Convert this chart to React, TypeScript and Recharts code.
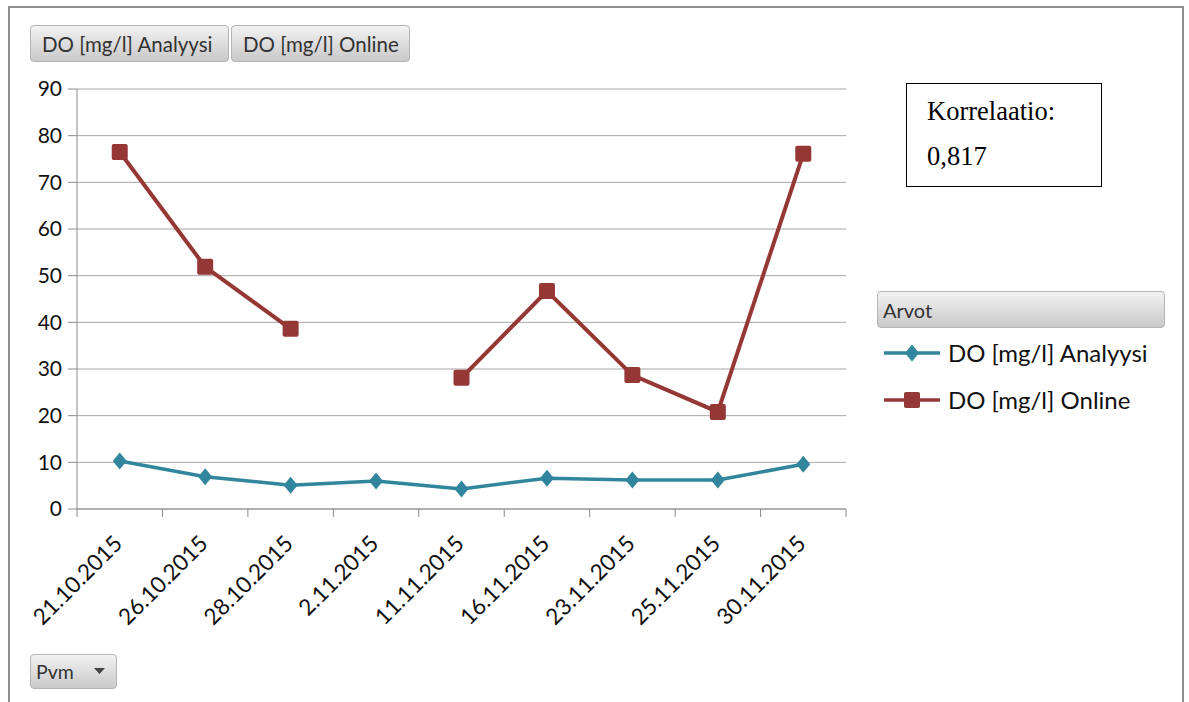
import React from "react";
import { LineChart, Line, XAxis, YAxis, CartesianGrid, Legend } from "recharts";

const dates = [
  "21.10.2015",
  "26.10.2015",
  "28.10.2015",
  "2.11.2015",
  "11.11.2015",
  "16.11.2015",
  "23.11.2015",
  "25.11.2015",
  "30.11.2015",
];
const analyysi = [10.3, 6.9, 5.1, 6.0, 4.3, 6.6, 6.2, 6.2, 9.6];
const online: (number | null)[] = [76.5, 51.9, 38.6, null, 28.1, 46.7, 28.7, 20.8, 76.1];
const yTicks = [0, 10, 20, 30, 40, 50, 60, 70, 80, 90];

const data = dates.map((d, i) => ({ pvm: d, analyysi: analyysi[i], online: online[i] }));

const TEAL = "#31859c";
const RED = "#953735";
const FONT = "Lato, 'Open Sans', sans-serif";

const buttonStyle: React.CSSProperties = {
  position: "absolute",
  boxSizing: "border-box",
  background: "linear-gradient(#f2f2f2, #c9c9c9)",
  border: "1px solid #b4b4b4",
  borderRadius: 4,
  color: "#333",
  fontFamily: FONT,
  fontSize: 20.5,
  display: "flex",
  alignItems: "center",
  paddingLeft: 11,
};

function Diamond({ cx, cy }: any) {
  if (cx == null || cy == null) return null;
  return <path d={`M${cx},${cy - 8.5} L${cx + 7},${cy} L${cx},${cy + 8.5} L${cx - 7},${cy} Z`} fill={TEAL} />;
}

function Square({ cx, cy, value }: any) {
  if (cx == null || cy == null || value == null) return null;
  return <rect x={cx - 8} y={cy - 8} width={16} height={16} rx={2} fill={RED} />;
}

function DateTick({ x, y, payload, index }: any) {
  const off = payload.offset || 0;
  const ax = x + 4;
  const ay = y + 28;
  return (
    <g>
      <line x1={x - off} x2={x - off} y1={y - 8} y2={y} stroke="#8c8c8c" />
      {index === dates.length - 1 && (
        <line x1={x + off} x2={x + off} y1={y - 8} y2={y} stroke="#8c8c8c" />
      )}
      <text
        x={ax}
        y={ay}
        textAnchor="end"
        transform={`rotate(-45, ${ax}, ${ay})`}
        fontFamily={FONT}
        fontSize={22.5}
        fill="#111"
      >
        {payload.value}
      </text>
    </g>
  );
}

function LegendBox({ payload }: any) {
  return (
    <div style={{ width: 300, fontFamily: FONT }}>
      <div style={{ ...buttonStyle, position: "relative", width: 288, height: 37, fontSize: 20, paddingLeft: 5 }}>
        Arvot
      </div>
      {(payload || []).map((p: any, i: number) => (
        <div key={i} style={{ display: "flex", alignItems: "center", height: 47, marginTop: i === 0 ? 1 : 0 }}>
          <svg width={70} height={20} style={{ marginLeft: 7 }}>
            <line x1={0} x2={56} y1={10} y2={10} stroke={p.color} strokeWidth={3.5} />
            {i === 0 ? (
              <path d="M28,1.5 L35,10 L28,18.5 L21,10 Z" fill={TEAL} />
            ) : (
              <rect x={20} y={2} width={16} height={16} rx={2} fill={RED} />
            )}
          </svg>
          <span style={{ fontSize: 24, color: "#111", marginLeft: -6 }}>{p.value}</span>
        </div>
      ))}
    </div>
  );
}

export default function App() {
  return (
    <div style={{ position: "absolute", left: 0, top: 0, width: 1189, height: 702, background: "#fff", overflow: "hidden" }}>
      <div
        style={{
          position: "absolute",
          left: 8,
          top: 6,
          width: 1176,
          height: 710,
          border: "2px solid #8f8f8f",
          boxSizing: "border-box",
        }}
      />
      <LineChart width={1189} height={702} data={data} margin={{ top: 89, right: 343, bottom: 93, left: 17 }}>
        <CartesianGrid vertical={false} stroke="#a6a6a6" strokeWidth={1} />
        <XAxis
          dataKey="pvm"
          scale="band"
          height={100}
          axisLine={{ stroke: "#8c8c8c" }}
          tickLine={false}
          tickSize={8}
          tickMargin={0}
          interval={0}
          tick={<DateTick />}
        />
        <YAxis
          width={60}
          domain={[0, 90]}
          ticks={yTicks}
          interval={0}
          axisLine={{ stroke: "#8c8c8c" }}
          tickLine={{ stroke: "#8c8c8c" }}
          tickSize={9}
          tickMargin={6}
          tick={{ fontFamily: FONT, fontSize: 21, fill: "#111" }}
        />
        <Line
          dataKey="analyysi"
          name="DO [mg/l] Analyysi"
          stroke={TEAL}
          strokeWidth={3.5}
          dot={<Diamond />}
          activeDot={false}
          isAnimationActive={false}
        />
        <Line
          dataKey="online"
          name="DO [mg/l] Online"
          stroke={RED}
          strokeWidth={4}
          dot={<Square />}
          activeDot={false}
          connectNulls={false}
          isAnimationActive={false}
        />
        <Legend
          layout="vertical"
          verticalAlign="middle"
          align="center"
          content={<LegendBox />}
          wrapperStyle={{ position: "absolute", left: 877, top: 291, width: 300 }}
        />
      </LineChart>
      <div style={{ ...buttonStyle, left: 30, top: 25, width: 199, height: 37 }}>DO [mg/l] Analyysi</div>
      <div style={{ ...buttonStyle, left: 231, top: 25, width: 179, height: 37 }}>DO [mg/l] Online</div>
      <div style={{ ...buttonStyle, left: 30, top: 654, width: 87, height: 35, paddingLeft: 5, fontSize: 19.5 }}>
        Pvm
        <svg width={12} height={8} style={{ marginLeft: 20 }}>
          <path d="M0,0 L11,0 L5.5,6 Z" fill="#444" />
        </svg>
      </div>
      <div
        style={{
          position: "absolute",
          left: 906,
          top: 83,
          width: 196,
          height: 104,
          boxSizing: "border-box",
          border: "1px solid #000",
          fontFamily: "'Liberation Serif', serif",
          fontSize: 26.5,
          color: "#000",
          paddingLeft: 20,
          paddingTop: 12,
        }}
      >
        <div style={{ lineHeight: "30px" }}>Korrelaatio:</div>
        <div style={{ lineHeight: "30px", marginTop: 15 }}>0,817</div>
      </div>
    </div>
  );
}
